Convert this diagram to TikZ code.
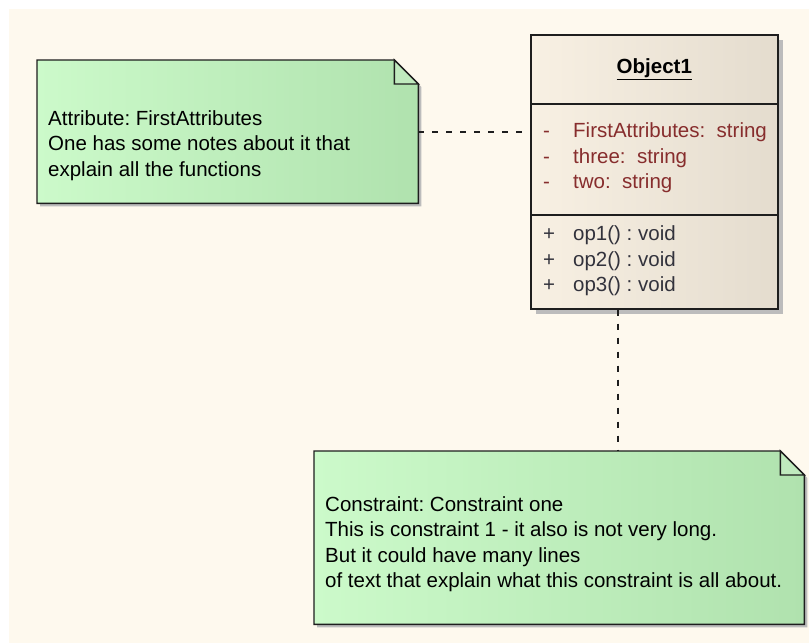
\documentclass[tikz,border=0pt]{standalone}
\usepackage{fontspec}
\setmainfont{Liberation Sans}
\usepackage{tikz}
\usetikzlibrary{
    positioning,
    calc
}
\definecolor{PaperCream}{RGB}{254,249,238}
\definecolor{NoteGreen}{RGB}{204,250,202}
\definecolor{NoteGreenDark}{RGB}{176,226,174}
\definecolor{NoteFold}{RGB}{192,234,190}
\definecolor{ClassLight}{RGB}{248,240,227}
\definecolor{ClassDark}{RGB}{228,220,206}
\definecolor{ShadowGray}{RGB}{188,188,188}
\definecolor{AttrRed}{RGB}{135,45,45}
\definecolor{OpGray}{RGB}{50,50,60}
\definecolor{EdgeDark}{RGB}{30,30,30}
\newcommand{\diagfont}{\fontsize{20.5}{25.5}\selectfont}
\frenchspacing

\begin{document}
\begin{tikzpicture}[
    x=1pt,
    y=-1pt,
%
    notebox/.style={
        rectangle,
        inner sep=0pt,
        anchor=north west
    },
%
    notebody/.style={
        preaction={
            fill=ShadowGray,
            transform canvas={xshift=3pt,yshift=-3pt}
        },
        draw=EdgeDark,
        line width=1.4pt,
        left color=NoteGreen,
        middle color=NoteGreen,
        right color=NoteGreenDark
    },
%
    notefold/.style={
        draw=EdgeDark,
        line width=1.4pt,
        fill=NoteFold,
        line join=miter
    },
%
    notetext/.style={
        anchor=west,
        align=left,
        inner sep=0pt,
        font=\diagfont,
        text=black
    },
%
    classbox/.style={
        rectangle,
        preaction={
            fill=ShadowGray,
            transform canvas={xshift=5pt,yshift=-5pt}
        },
        draw=EdgeDark,
        line width=1.6pt,
        left color=ClassLight,
        right color=ClassDark,
        inner sep=0pt,
        anchor=north west
    },
%
    classline/.style={
        draw=EdgeDark,
        line width=1.4pt
    },
%
    membertext/.style={
        anchor=west,
        align=left,
        inner sep=0pt,
        font=\diagfont
    },
%
    dashlink/.style={
        draw=EdgeDark,
        line width=1.6pt,
        dash pattern=on 6pt off 8pt
    }
]
%
% Canvas
%
\useasboundingbox (0,0) rectangle (809,643);
\fill[white] (0,0) rectangle (809,643);
\fill[PaperCream] (9,9) rectangle (809,643);
%
% Attribute note
%
\node[
    notebox,
    minimum width=381,
    minimum height=143
] (attnote) at (37,60) {};
%
\path[notebody]
    (attnote.north west)
    -- ([xshift=-24pt]attnote.north east)
    -- ([yshift=-24pt]attnote.north east)
    -- (attnote.south east)
    -- (attnote.south west)
    -- cycle;
\path[notefold]
    ([xshift=-24pt]attnote.north east)
    -- ([xshift=-24pt,yshift=-24pt]attnote.north east)
    -- ([yshift=-24pt]attnote.north east)
    -- cycle;
%
\node[notetext] (atttext) at ([xshift=11pt,yshift=-13.5pt]attnote.west) {
    Attribute: FirstAttributes\\
    One has some notes about it that\\
    explain all the functions
};
%
% Object1 class
%
\node[
    classbox,
    minimum width=247,
    minimum height=274
] (obj) at (530,34) {};
%
\draw[classline]
    ([yshift=-70pt]obj.north west)
    -- ([yshift=-70pt]obj.north east);
\draw[classline]
    ([yshift=-181pt]obj.north west)
    -- ([yshift=-181pt]obj.north east);
%
\node[
    inner sep=0pt,
    font=\diagfont\bfseries,
    below=24pt of obj.north
] (objname) {
    \underline{Object1}
};
%
\node[
    membertext,
    text=AttrRed
] (attrs) at ([xshift=13pt,yshift=-124pt]obj.north west) {
    \makebox[30pt][l]{-}FirstAttributes:~ string\\
    \makebox[30pt][l]{-}three:~ string\\
    \makebox[30pt][l]{-}two:~ string
};
%
\node[
    membertext,
    text=OpGray
] (ops) at ([xshift=13pt,yshift=-227pt]obj.north west) {
    \makebox[30pt][l]{+}op1() : void\\
    \makebox[30pt][l]{+}op2() : void\\
    \makebox[30pt][l]{+}op3() : void
};
%
% Constraint note
%
\node[
    notebox,
    minimum width=490,
    minimum height=173
] (connote) at (314,451) {};
%
\path[notebody]
    (connote.north west)
    -- ([xshift=-24pt]connote.north east)
    -- ([yshift=-24pt]connote.north east)
    -- (connote.south east)
    -- (connote.south west)
    -- cycle;
\path[notefold]
    ([xshift=-24pt]connote.north east)
    -- ([xshift=-24pt,yshift=-24pt]connote.north east)
    -- ([yshift=-24pt]connote.north east)
    -- cycle;
%
\node[notetext] (context) at ([xshift=11pt,yshift=-6.5pt]connote.west) {
    Constraint: Constraint one\\
    This is constraint 1 - it also is not very long.\\
    But it could have many lines\\
    of text that explain what this constraint is all about.
};
%
% Note links
%
\draw[dashlink]
    (attnote.east)
    --
    (attnote.east -| obj.west);
\draw[dashlink]
    ([xshift=-36.5pt]obj.south)
    --
    ([xshift=-36.5pt]obj.south |- connote.north);
%
\end{tikzpicture}
\end{document}
